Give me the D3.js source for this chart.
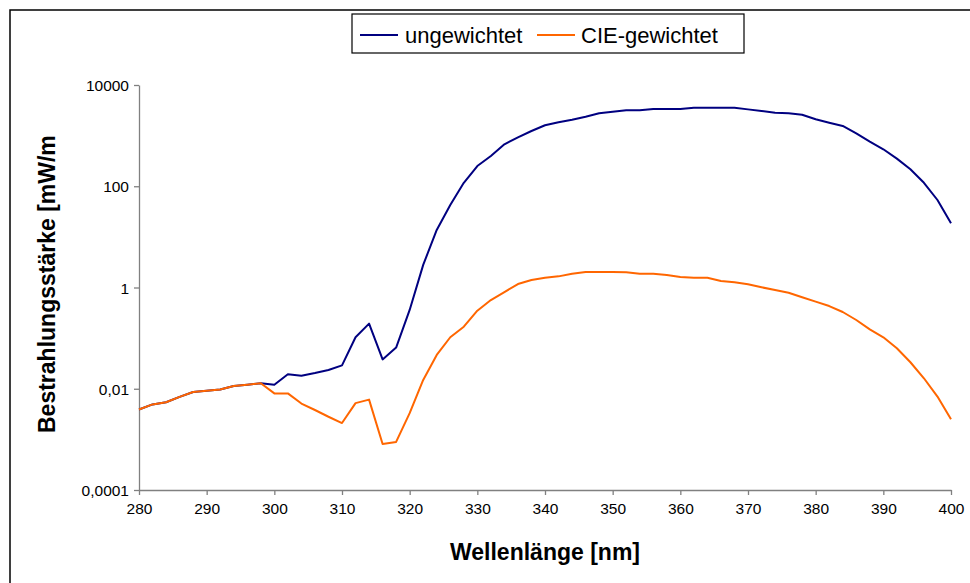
<!DOCTYPE html>
<html>
<head>
<meta charset="utf-8">
<script src="https://cdn.jsdelivr.net/npm/d3@7"></script>
<style>
  html, body { margin: 0; padding: 0; background: #fff; }
  svg { display: block; font-family: "Liberation Sans", Arial, sans-serif; }
</style>
</head>
<body>
<svg id="chart" width="970" height="583"></svg>
<script>
// Wavelength grid in nm
const wavelengths = [280, 282, 284, 286, 288, 290, 292, 294, 296, 298,
  300, 302, 304, 306, 308, 310, 312, 314, 316, 318,
  320, 322, 324, 326, 328, 330, 332, 334, 336, 338,
  340, 342, 344, 346, 348, 350, 352, 354, 356, 358,
  360, 362, 364, 366, 368, 370, 372, 374, 376, 378,
  380, 382, 384, 386, 388, 390, 392, 394, 396, 398, 400];

// Irradiance, unweighted
const ungewichtet = [0.0039, 0.0049, 0.0054, 0.0069, 0.0086, 0.0091, 0.0097, 0.0113, 0.012, 0.0128,
  0.012, 0.0193, 0.0181, 0.0204, 0.0234, 0.029, 0.104, 0.193, 0.038, 0.065,
  0.36, 2.8, 13.7, 42.7, 117, 251, 396, 675, 927, 1235,
  1600, 1834, 2065, 2366, 2755, 2970, 3160, 3160, 3360, 3360,
  3360, 3570, 3570, 3570, 3570, 3300, 3070, 2840, 2760, 2590,
  2100, 1800, 1550, 1110, 760, 537, 351, 216, 117, 53.5, 18.5];

// Irradiance, CIE erythema weighted
const cieGewichtet = [0.0039, 0.0049, 0.0054, 0.0069, 0.0086, 0.0091, 0.0097, 0.0113, 0.012, 0.0128,
  0.0081, 0.0081, 0.0051, 0.0038, 0.0028, 0.0021, 0.0052, 0.0061, 0.00081, 0.00089,
  0.0033, 0.0149, 0.0465, 0.104, 0.168, 0.348, 0.566, 0.814, 1.17, 1.41,
  1.56, 1.66, 1.87, 2.02, 2.02, 2.02, 2.0, 1.87, 1.87, 1.77,
  1.61, 1.56, 1.56, 1.34, 1.27, 1.16, 1.01, 0.89, 0.79, 0.64,
  0.525, 0.43, 0.328, 0.228, 0.149, 0.104, 0.063, 0.0334, 0.0161, 0.007, 0.0025];

const xTicks = [280, 290, 300, 310, 320, 330, 340, 350, 360, 370, 380, 390, 400];
const yTicks = [0.0001, 0.01, 1, 100, 10000];
const yTickLabels = ["0,0001", "0,01", "1", "100", "10000"];

const seriesNames = ["ungewichtet", "CIE-gewichtet"];
const seriesColors = ["#000080", "#ff6600"];

const svg = d3.select("#chart");
const plot = { left: 139, right: 951, top: 85, bottom: 490 };

// Outer chart frame (only top and left edges fall inside the page)
svg.append("rect")
  .attr("x", 10).attr("y", 10)
  .attr("width", 1000).attr("height", 1000)
  .attr("fill", "none").attr("stroke", "#000").attr("stroke-width", 1.5);

const x = d3.scaleLinear().domain([280, 400]).range([plot.left, plot.right]);
const y = d3.scaleLog().domain([0.0001, 10000]).range([plot.bottom, plot.top]);

// Axes
const xAxis = d3.axisBottom(x).tickValues(xTicks).tickSize(5).tickSizeOuter(0)
  .tickFormat(d3.format("d"));
const yAxis = d3.axisLeft(y).tickValues(yTicks).tickSize(5).tickSizeOuter(0)
  .tickFormat((d, i) => yTickLabels[i]);

const gx = svg.append("g").attr("transform", `translate(0,${plot.bottom})`).call(xAxis);
const gy = svg.append("g").attr("transform", `translate(${plot.left},0)`).call(yAxis);

[gx, gy].forEach(g => {
  g.select(".domain").attr("stroke", "#808080").attr("stroke-width", 1.3);
  g.selectAll(".tick line").attr("stroke", "#808080").attr("stroke-width", 1.3);
  g.selectAll(".tick text").attr("fill", "#000").style("font-size", "15.5px")
    .style("font-family", "'Liberation Sans', Arial, sans-serif");
});
gx.selectAll(".tick text").attr("dy", "1.05em").attr("y", 8);
gy.selectAll(".tick text").attr("x", -10).attr("dy", "0.36em");

// Series lines
const series = [ungewichtet, cieGewichtet];
const line = d3.line()
  .x((d, i) => x(wavelengths[i]))
  .y(d => y(d));

series.forEach((vals, k) => {
  svg.append("path")
    .datum(vals)
    .attr("fill", "none")
    .attr("stroke", seriesColors[k])
    .attr("stroke-width", 2)
    .attr("stroke-linejoin", "round")
    .attr("d", line);
});

// Axis titles
svg.append("text")
  .attr("x", 545).attr("y", 560)
  .attr("text-anchor", "middle")
  .style("font-size", "23px").style("font-weight", "bold")
  .text("Wellenlänge [nm]");

// The y title is cut off at the top of its slot
svg.append("defs").append("clipPath").attr("id", "ytitle-clip")
  .append("rect").attr("x", 0).attr("y", 130).attr("width", 100).attr("height", 400);

svg.append("g").attr("clip-path", "url(#ytitle-clip)")
  .append("text")
  .attr("transform", "translate(55,433) rotate(-90)")
  .attr("text-anchor", "start")
  .style("font-size", "23px").style("font-weight", "bold")
  .text("Bestrahlungsstärke [mW/m");

// Legend
const legend = svg.append("g");
legend.append("rect")
  .attr("x", 352).attr("y", 14).attr("width", 392).attr("height", 39)
  .attr("fill", "#fff").attr("stroke", "#000").attr("stroke-width", 1.2);

const legendItems = [
  { x0: 360, tx: 405 },
  { x0: 537, tx: 581 }
];
legendItems.forEach((it, k) => {
  legend.append("line")
    .attr("x1", it.x0).attr("x2", it.x0 + 38)
    .attr("y1", 35).attr("y2", 35)
    .attr("stroke", seriesColors[k]).attr("stroke-width", 2);
  legend.append("text")
    .attr("x", it.tx).attr("y", 43)
    .style("font-size", "22px")
    .text(seriesNames[k]);
});
</script>
</body>
</html>
